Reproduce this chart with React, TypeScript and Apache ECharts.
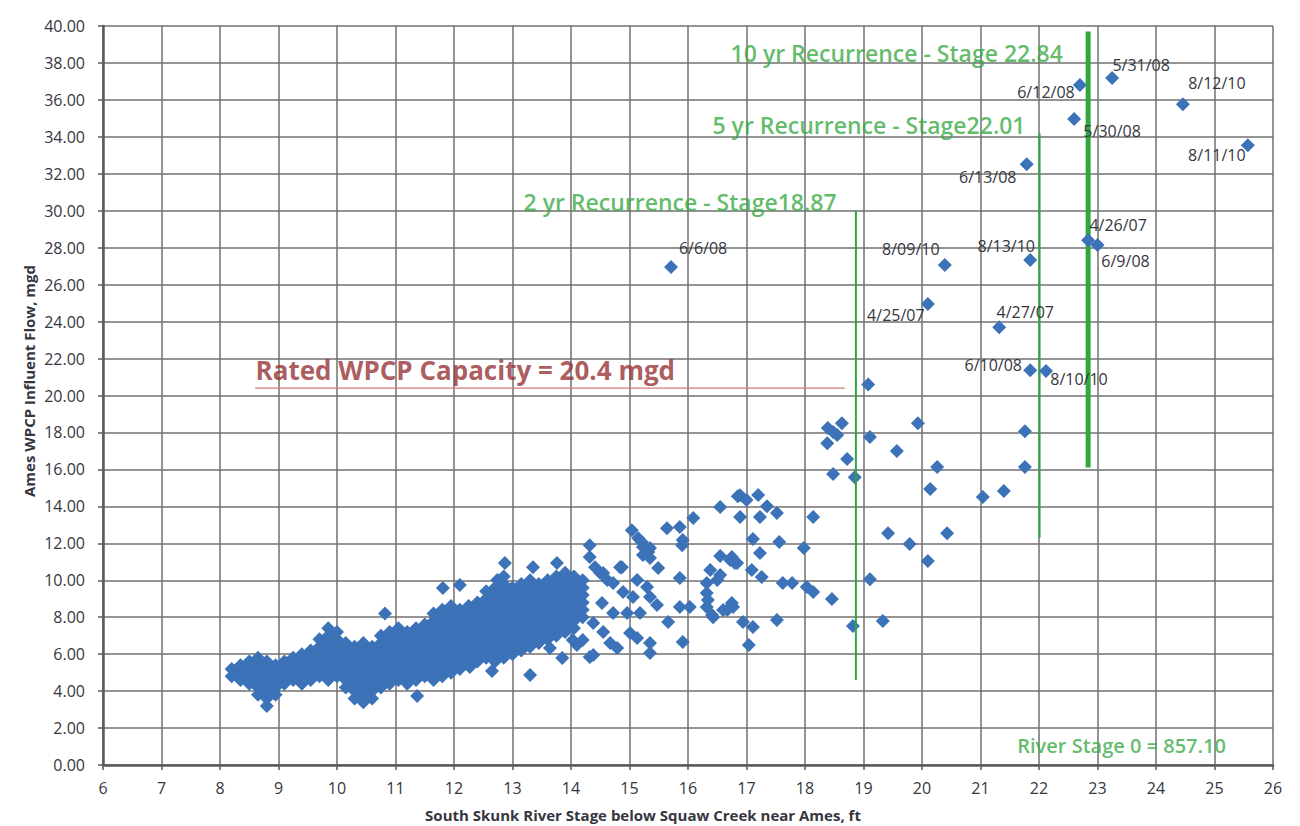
import React, { useEffect, useRef } from "react";
import * as echarts from "echarts";

// ---------- DATA ----------
// Dense cluster of daily values, one column per river stage (ft) with flows (mgd)
const clusterColumns: [number, number[]][] = [
  [8.2, [4.8, 5.2]],
  [8.35, [4.6, 5.0, 5.4]],
  [8.5, [4.4, 4.8, 5.2, 5.6]],
  [8.65, [3.8, 4.2, 4.6, 5.0, 5.4, 5.8]],
  [8.8, [3.2, 3.6, 4.0, 4.4, 4.8, 5.2, 5.6]],
  [8.95, [3.8, 4.2, 4.6, 5.0, 5.4]],
  [9.1, [4.4, 4.8, 5.2, 5.6]],
  [9.25, [4.6, 5.0, 5.4, 5.8]],
  [9.4, [4.4, 4.8, 5.2, 5.6, 6.0]],
  [9.55, [4.6, 5.0, 5.4, 5.8, 6.2]],
  [9.7, [4.8, 5.2, 5.6, 6.0, 6.4, 6.8]],
  [9.85, [4.6, 5.0, 5.4, 5.8, 6.2, 6.6, 7.0, 7.4]],
  [10.0, [4.8, 5.2, 5.6, 6.0, 6.4, 6.8, 7.2]],
  [10.15, [4.2, 4.6, 5.0, 5.4, 5.8, 6.2, 6.6]],
  [10.3, [3.6, 4.0, 4.4, 4.8, 5.2, 5.6, 6.0, 6.4]],
  [10.45, [3.4, 3.8, 4.2, 4.6, 5.0, 5.4, 5.8, 6.2, 6.6]],
  [10.6, [3.6, 4.0, 4.4, 4.8, 5.2, 5.6, 6.0, 6.4]],
  [10.75, [4.2, 4.6, 5.0, 5.4, 5.8, 6.2, 6.6, 7.0]],
  [10.9, [4.4, 4.8, 5.2, 5.6, 6.0, 6.4, 6.8, 7.2]],
  [11.05, [4.6, 5.0, 5.4, 5.8, 6.2, 6.6, 7.0, 7.4]],
  [11.2, [4.4, 4.8, 5.2, 5.6, 6.0, 6.4, 6.8, 7.2]],
  [11.35, [4.6, 5.0, 5.4, 5.8, 6.2, 6.6, 7.0, 7.4]],
  [11.5, [4.8, 5.2, 5.6, 6.0, 6.4, 6.8, 7.2, 7.6]],
  [11.65, [4.6, 5.0, 5.4, 5.8, 6.2, 6.6, 7.0, 7.4, 7.8, 8.2]],
  [11.8, [4.8, 5.2, 5.6, 6.0, 6.4, 6.8, 7.2, 7.6, 8.0, 8.4]],
  [11.95, [5.0, 5.4, 5.8, 6.2, 6.6, 7.0, 7.4, 7.8, 8.2, 8.6]],
  [12.1, [5.2, 5.6, 6.0, 6.4, 6.8, 7.2, 7.6, 8.0, 8.4]],
  [12.25, [5.4, 5.8, 6.2, 6.6, 7.0, 7.4, 7.8, 8.2, 8.6]],
  [12.4, [5.6, 6.0, 6.4, 6.8, 7.2, 7.6, 8.0, 8.4, 8.8]],
  [12.55, [5.8, 6.2, 6.6, 7.0, 7.4, 7.8, 8.2, 8.6, 9.0, 9.4]],
  [12.7, [5.6, 6.0, 6.4, 6.8, 7.2, 7.6, 8.0, 8.4, 8.8, 9.2, 9.6]],
  [12.85, [5.8, 6.2, 6.6, 7.0, 7.4, 7.8, 8.2, 8.6, 9.0, 9.4, 9.8, 10.2]],
  [13.0, [6.0, 6.4, 6.8, 7.2, 7.6, 8.0, 8.4, 8.8, 9.2, 9.6]],
  [13.15, [6.2, 6.6, 7.0, 7.4, 7.8, 8.2, 8.6, 9.0, 9.4, 9.8]],
  [13.3, [6.4, 6.8, 7.2, 7.6, 8.0, 8.4, 8.8, 9.2, 9.6, 10.0]],
  [13.45, [6.6, 7.0, 7.4, 7.8, 8.2, 8.6, 9.0, 9.4, 9.8]],
  [13.6, [6.8, 7.2, 7.6, 8.0, 8.4, 8.8, 9.2, 9.6, 10.0]],
  [13.75, [7.0, 7.4, 7.8, 8.2, 8.6, 9.0, 9.4, 9.8, 10.2]],
  [13.9, [7.2, 7.6, 8.0, 8.4, 8.8, 9.2, 9.6, 10.0, 10.4]],
  [14.05, [7.4, 7.8, 8.2, 8.6, 9.0, 9.4, 9.8, 10.2]],
  [14.2, [8.0, 8.4, 8.8, 9.2, 9.6, 10.0]],
];

// Individually visible daily values [stage ft, flow mgd]
const scatteredFlows: [number, number][] = [
  [10.82, 8.2], [11.37, 3.73], [11.81, 9.58], [12.1, 9.74], [12.27, 5.3], [12.65, 5.09],
  [12.74, 10.01], [12.87, 10.93], [13.3, 4.87], [13.35, 10.71], [13.64, 6.33], [13.76, 10.93],
  [13.85, 5.79], [14.03, 6.76], [14.1, 6.49], [14.2, 6.76], [14.32, 11.9], [14.32, 11.26],
  [14.32, 5.84], [14.38, 5.95], [14.38, 7.68], [14.41, 10.71], [14.5, 10.39], [14.53, 8.77],
  [14.55, 7.2], [14.55, 10.39], [14.62, 10.01], [14.67, 6.6], [14.72, 9.85], [14.72, 8.23],
  [14.79, 6.33], [14.84, 10.71], [14.87, 10.71], [14.89, 9.36], [14.96, 8.23], [15.01, 7.14],
  [15.04, 12.7], [15.06, 9.09], [15.13, 10.01], [15.13, 6.87], [15.15, 12.28], [15.18, 8.23],
  [15.21, 12.07], [15.23, 11.8], [15.23, 11.36], [15.3, 9.63], [15.32, 11.53], [15.35, 11.74],
  [15.35, 11.2], [15.35, 9.09], [15.35, 6.6], [15.35, 6.06], [15.47, 8.66], [15.49, 10.66],
  [15.64, 12.82], [15.66, 7.74], [15.86, 12.88], [15.86, 10.12], [15.86, 8.55], [15.9, 11.9],
  [15.91, 12.18], [15.91, 6.66], [16.03, 8.55], [16.09, 13.37], [16.32, 9.85], [16.32, 9.31],
  [16.32, 8.55], [16.34, 8.93], [16.38, 10.55], [16.41, 8.12], [16.43, 8.0], [16.5, 10.01],
  [16.55, 13.96], [16.55, 11.31], [16.55, 10.28], [16.6, 8.39], [16.67, 8.39], [16.72, 11.09],
  [16.75, 11.26], [16.75, 8.77], [16.77, 8.55], [16.8, 10.93], [16.84, 10.93], [16.85, 14.55],
  [16.89, 14.6], [16.89, 13.42], [16.94, 7.74], [17.0, 14.34], [17.04, 6.49], [17.09, 10.55],
  [17.11, 12.23], [17.11, 7.47], [17.2, 14.61], [17.23, 13.42], [17.23, 11.47], [17.26, 10.17],
  [17.35, 14.0], [17.52, 13.64], [17.52, 7.85], [17.56, 12.07], [17.62, 9.85], [17.78, 9.85],
  [17.98, 11.74], [18.03, 9.63], [18.14, 13.42], [18.14, 9.36], [18.46, 8.98],
  [18.38, 17.42], [18.39, 18.24], [18.48, 18.02], [18.48, 15.75], [18.55, 17.86], [18.63, 18.5],
  [18.72, 16.56], [18.82, 7.52], [18.85, 15.58], [19.08, 20.6], [19.11, 17.75], [19.11, 10.06],
  [19.33, 7.79], [19.42, 12.55], [19.57, 17.0], [19.79, 11.96], [19.93, 18.5], [20.1, 11.04],
  [20.14, 14.94], [20.26, 16.13], [20.43, 12.55], [21.04, 14.5], [21.4, 14.83], [21.76, 18.07],
  [21.76, 16.13],
];

// Labelled flood events
const eventDates = ["5/31/08", "6/12/08", "8/12/10", "5/30/08", "8/11/10", "6/13/08", "4/26/07", "6/9/08", "8/13/10", "8/09/10", "6/6/08", "4/25/07", "4/27/07", "6/10/08", "8/10/10"];
const eventStages = [23.25, 22.7, 24.46, 22.6, 25.57, 21.79, 22.84, 23.0, 21.85, 20.39, 15.71, 20.1, 21.32, 21.85, 22.12];
const eventFlows = [37.18, 36.8, 35.77, 34.96, 33.55, 32.52, 28.41, 28.14, 27.33, 27.06, 26.95, 24.95, 23.7, 21.37, 21.32];

// Recurrence stages and the drawn extent of their marker lines (flow, mgd)
const recurrenceStages = [18.87, 22.01, 22.84];
const recurrenceTexts = ["2 yr Recurrence - Stage18.87", "5 yr Recurrence - Stage22.01", "10 yr Recurrence - Stage 22.84"];
const recurrenceFlowSpans: [number, number][] = [[4.6, 30.0], [12.3, 34.2], [16.1, 39.7]];

// Rated capacity
const capacityFlow = 20.4;
const capacityText = "Rated WPCP Capacity = 20.4 mgd";
const capacityStageSpan: [number, number] = [8.6, 18.68];
const riverStageText = "River Stage 0 = 857.10";

// Axis
const xMin = 6, xMax = 26, xStep = 1;
const yMin = 0, yMax = 40, yStep = 2;

// ---------- LAYOUT / STYLE ----------
const BLUE = "#3b72b8";
const GREEN = "#3aaa45";
const LINE_GREEN = "#2fa640";
const DARK_RED = "#963236";
const TEXT = "#36363f";
const FONT = "'Open Sans', 'Noto Sans', sans-serif";
const eventLabelOffsets: [number, number][] = [
  [29, -13], [-34, 7], [34, -21], [38, 12], [-31, 10], [-39, 13], [30, -15], [28, 16],
  [-24, -14], [-34, -16], [32, -19], [-32, 11], [26, -15], [-37, -5], [33, 8],
];
// anchors (left edge / middle) of annotation texts, in data coords
const recurrenceTextAnchors: [number, number][] = [[13.18, 30.47], [16.41, 34.63], [16.72, 38.53]];
const capacityTextAnchor: [number, number] = [8.6, 21.37];
const riverTextAnchor: [number, number] = [21.62, 1.08];
const recurrenceWidths = [2, 2, 5];

export default function App() {
  const ref = useRef<HTMLDivElement>(null);

  useEffect(() => {
    if (!ref.current) return;
    const chart = echarts.init(ref.current, undefined, { renderer: "svg" });

    const flows: [number, number][] = [];
    clusterColumns.forEach(([x, ys]) => ys.forEach((y) => flows.push([x, y])));
    scatteredFlows.forEach((p) => flows.push(p));

    const eventItems = eventDates.map((d, i) => ({
      name: d,
      value: [eventStages[i], eventFlows[i]],
      label: { offset: eventLabelOffsets[i] },
    }));

    const recurrenceSeries = recurrenceStages.map((s, i) => ({
      type: "line",
      name: recurrenceTexts[i],
      data: [[s, recurrenceFlowSpans[i][0]], [s, recurrenceFlowSpans[i][1]]],
      showSymbol: false,
      symbol: "none",
      lineStyle: { color: LINE_GREEN, width: recurrenceWidths[i] },
      z: 4,
      silent: true,
    }));

    const annotation = (name: string, anchor: [number, number], color: string, size: number, weight: any) => ({
      type: "scatter",
      name,
      data: [{ name, value: anchor }],
      symbolSize: 1,
      itemStyle: { color: "rgba(0,0,0,0)" },
      label: {
        show: true,
        position: "right",
        distance: 0,
        formatter: "{b}",
        color,
        fontSize: size,
        fontWeight: weight,
        fontFamily: FONT,
        align: "left",
        verticalAlign: "middle",
      },
      z: 6,
      silent: true,
    });

    chart.setOption({
      animation: false,
      backgroundColor: "#ffffff",
      grid: { left: 103, right: 27, top: 26, bottom: 61, containLabel: false },
      xAxis: {
        type: "value",
        min: xMin,
        max: xMax,
        interval: xStep,
        axisLine: { show: true, onZero: false, lineStyle: { color: "#5a5a5a", width: 2.5 } },
        axisTick: { show: true, inside: false, length: 5, lineStyle: { color: "#5a5a5a", width: 1.5 } },
        axisLabel: { color: TEXT, fontSize: 16, fontFamily: FONT, margin: 15 },
        splitLine: { show: true, lineStyle: { color: "#707070", width: 1.5 } },
      },
      yAxis: {
        type: "value",
        min: yMin,
        max: yMax,
        interval: yStep,
        axisLine: { show: true, lineStyle: { color: "#5a5a5a", width: 2.5 } },
        axisTick: { show: true, inside: false, length: 5, lineStyle: { color: "#5a5a5a", width: 1.5 } },
        axisLabel: {
          color: TEXT,
          fontSize: 16,
          fontFamily: FONT,
          margin: 18,
          formatter: (v: number) => v.toFixed(2),
        },
        splitLine: { show: true, lineStyle: { color: "#707070", width: 1.5 } },
      },
      graphic: [
        {
          type: "text",
          x: 29,
          y: 381,
          rotation: Math.PI / 2,
          style: {
            text: "Ames WPCP Influent Flow, mgd",
            fill: TEXT,
            font: `bold 15px ${FONT}`,
            align: "center",
            verticalAlign: "middle",
          },
        },
        {
          type: "text",
          x: 643,
          y: 815,
          style: {
            text: "South Skunk River Stage below Squaw Creek near Ames, ft",
            fill: TEXT,
            font: `bold 15px ${FONT}`,
            align: "center",
            verticalAlign: "middle",
          },
        },
      ],
      series: [
        {
          type: "scatter",
          name: "Daily flow",
          data: flows,
          symbol: "diamond",
          symbolSize: 14,
          itemStyle: { color: BLUE, opacity: 1 },
          z: 2,
          silent: true,
        },
        {
          type: "scatter",
          name: "Events",
          data: eventItems,
          symbol: "diamond",
          symbolSize: 14,
          itemStyle: { color: BLUE, opacity: 1 },
          label: {
            show: true,
            position: "inside",
            formatter: "{b}",
            color: TEXT,
            fontSize: 16,
            fontFamily: FONT,
          },
          z: 5,
          silent: true,
        },
        ...recurrenceSeries,
        {
          type: "line",
          name: "Rated capacity",
          data: [[capacityStageSpan[0], capacityFlow], [capacityStageSpan[1], capacityFlow]],
          showSymbol: false,
          symbol: "none",
          lineStyle: { color: "#d27a7a", width: 1.2 },
          z: 4,
          silent: true,
        },
        ...recurrenceTexts.map((t, i) => annotation(t, recurrenceTextAnchors[i], GREEN, 23, 600)),
        annotation(capacityText, capacityTextAnchor, DARK_RED, 26, "bold"),
        annotation(riverStageText, riverTextAnchor, GREEN, 20, 600),
      ],
    });

    return () => chart.dispose();
  }, []);

  return (
    <div
      ref={ref}
      style={{ position: "absolute", left: 0, top: 0, width: 1300, height: 826, background: "#fff" }}
    />
  );
}
